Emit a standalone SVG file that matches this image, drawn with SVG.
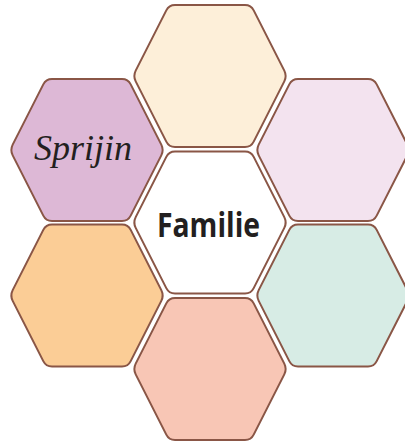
<svg xmlns="http://www.w3.org/2000/svg" xmlns:xlink="http://www.w3.org/1999/xlink" width="405" height="441" viewBox="0 0 405 441">
<style>
.hex{stroke:#8a5646;stroke-width:2;}
.lbl-i{font-family:"Liberation Serif","Times New Roman",serif;font-style:italic;font-size:36px;fill:#231f20;}
.lbl-b{font-family:"Open Sans","Liberation Sans",sans-serif;font-weight:bold;font-size:34px;fill:#231f20;}
</style>
<defs>
<path id="hexshape" d="M-35,-71 H35 Q41,-71 43.7,-65.6 L74.3,-5.4 Q77,0 74.3,5.4 L43.7,65.6 Q41,71 35,71 H-35 Q-41,71 -43.7,65.6 L-74.3,5.4 Q-77,0 -74.3,-5.4 L-43.7,-65.6 Q-41,-71 -35,-71 Z"/>
</defs>
<rect width="405" height="441" fill="#ffffff"/>
<g id="connectors"></g>
<g id="node-top"><use href="#hexshape" xlink:href="#hexshape" class="hex" fill="#fdefd9" x="210" y="76"/></g>
<g id="node-sprijin"><use href="#hexshape" xlink:href="#hexshape" class="hex" fill="#ddb8d6" x="87" y="150"/><text class="lbl-i" x="83" y="160" text-anchor="middle">Sprijin</text></g>
<g id="node-upper-right"><use href="#hexshape" xlink:href="#hexshape" class="hex" fill="#f3e3ef" x="333" y="150"/></g>
<g id="node-familie"><use href="#hexshape" xlink:href="#hexshape" class="hex" fill="#ffffff" x="210" y="222.5"/><text class="lbl-b" x="208.5" y="237" text-anchor="middle" textLength="103" lengthAdjust="spacingAndGlyphs">Familie</text></g>
<g id="node-lower-left"><use href="#hexshape" xlink:href="#hexshape" class="hex" fill="#fbcd96" x="87" y="295.5"/></g>
<g id="node-lower-right"><use href="#hexshape" xlink:href="#hexshape" class="hex" fill="#d7ece5" x="333" y="295.5"/></g>
<g id="node-bottom"><use href="#hexshape" xlink:href="#hexshape" class="hex" fill="#f8c6b5" x="210" y="369"/></g>
</svg>
